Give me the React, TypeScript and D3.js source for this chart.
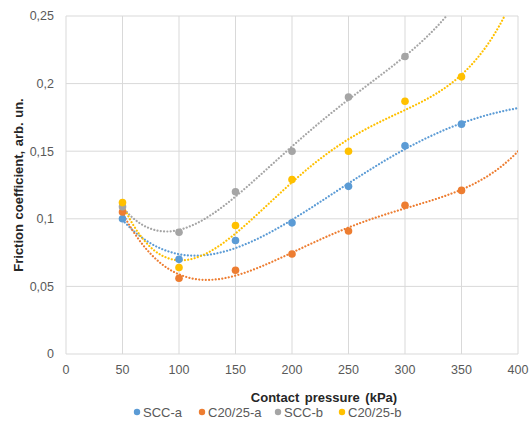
import React from "react";
import * as d3 from "d3";

const pressures = [50, 100, 150, 200, 250, 300, 350];
const sccA = [0.1, 0.07, 0.084, 0.097, 0.124, 0.154, 0.17];
const c2025A = [0.105, 0.056, 0.062, 0.074, 0.091, 0.11, 0.121];
const sccB = [0.109, 0.09, 0.12, 0.15, 0.19, 0.22];
const c2025B = [0.112, 0.064, 0.095, 0.129, 0.15, 0.187, 0.205];
const xTicks = [0, 50, 100, 150, 200, 250, 300, 350, 400];
const yTicks = [0, 0.05, 0.1, 0.15, 0.2, 0.25];

const series = [
  { name: "SCC-a", color: "#5B9BD5", values: sccA },
  { name: "C20/25-a", color: "#ED7D31", values: c2025A },
  { name: "SCC-b", color: "#A5A5A5", values: sccB },
  { name: "C20/25-b", color: "#FFC000", values: c2025B },
];

const W = 530;
const H = 432;
const margin = { left: 66, right: 12, top: 16, bottom: 78 };

// least squares polynomial, like the spreadsheet trendline
function polyfit(xs: number[], ys: number[], order: number) {
  const n = order + 1;
  const A: number[][] = [];
  for (let i = 0; i < n; i++) {
    A.push(new Array(n + 1).fill(0));
  }
  xs.forEach((x0, k) => {
    const x = x0 / 100;
    for (let i = 0; i < n; i++) {
      for (let j = 0; j < n; j++) A[i][j] += Math.pow(x, i + j);
      A[i][n] += ys[k] * Math.pow(x, i);
    }
  });
  for (let i = 0; i < n; i++) {
    let p = i;
    for (let r = i + 1; r < n; r++) if (Math.abs(A[r][i]) > Math.abs(A[p][i])) p = r;
    [A[i], A[p]] = [A[p], A[i]];
    for (let r = 0; r < n; r++) {
      if (r === i) continue;
      const f = A[r][i] / A[i][i];
      for (let c = i; c <= n; c++) A[r][c] -= f * A[i][c];
    }
  }
  const coef = A.map((row, i) => row[n] / row[i]);
  return (x0: number) => {
    const x = x0 / 100;
    return coef.reduce((s, c, i) => s + c * Math.pow(x, i), 0);
  };
}

export default function App() {
  const x = d3.scaleLinear().domain([0, 400]).range([margin.left, W - margin.right]);
  const y = d3.scaleLinear().domain([0, 0.25]).range([H - margin.bottom, margin.top]);
  const fmt = (v: number) => String(v).replace(".", ",");

  const line = d3
    .line<number[]>()
    .x((d) => x(d[0]))
    .y((d) => y(d[1]));

  const trendXs = d3.range(50, 400.5, 2);

  return (
    <svg width={W} height={H} style={{ position: "absolute", left: 0, top: 0 }}
      fontFamily="Liberation Sans, Arial, sans-serif">
      <defs>
        <clipPath id="plot">
          <rect x={x(0)} y={y(0.25)} width={x(400) - x(0)} height={y(0) - y(0.25)} />
        </clipPath>
      </defs>
      <rect width={W} height={H} fill="#fff" />
      {yTicks.map((t) => (
        <line key={"gy" + t} x1={x(0)} x2={x(400)} y1={y(t)} y2={y(t)} stroke="#d9d9d9" />
      ))}
      {xTicks.map((t) => (
        <line key={"gx" + t} x1={x(t)} x2={x(t)} y1={y(0)} y2={y(0.25)} stroke="#d9d9d9" />
      ))}
      {yTicks.map((t) => (
        <text key={"ty" + t} x={x(0) - 12} y={y(t)} dy="0.35em" textAnchor="end" fontSize={12.5} fill="#595959">
          {fmt(t)}
        </text>
      ))}
      {xTicks.map((t) => (
        <text key={"tx" + t} x={x(t)} y={y(0) + 20} textAnchor="middle" fontSize={12.5} fill="#595959">
          {t}
        </text>
      ))}
      <text x={324} y={y(0) + 48} textAnchor="middle" fontSize={13} fontWeight="bold" fill="#262626" wordSpacing={2}>
        Contact pressure (kPa)
      </text>
      <text transform={`translate(18,${(y(0) + y(0.25)) / 2}) rotate(-90)`} dy="0.35em" textAnchor="middle"
        fontSize={13} fontWeight="bold" fill="#262626" wordSpacing={1}>
        Friction coefficient, arb. un.
      </text>
      <g clipPath="url(#plot)">
        {series.map((s) => {
          const xs = pressures.slice(0, s.values.length);
          const f = polyfit(xs, s.values, 4);
          const pts = trendXs.map((v) => [v, f(v)]);
          return (
            <path key={"tr" + s.name} d={line(pts) || ""} fill="none" stroke={s.color} strokeWidth={2.2}
              strokeDasharray="0.01 3.3" strokeLinecap="round" />
          );
        })}
      </g>
      {series.map((s) =>
        s.values.map((v, i) => (
          <circle key={s.name + i} cx={x(pressures[i])} cy={y(v)} r={3.8} fill={s.color} />
        ))
      )}
      {series.map((s, i) => {
        const lx = [137, 202, 278, 342][i];
        return (
          <g key={"lg" + s.name} transform={`translate(${lx},412)`}>
            <circle cx={0} cy={0} r={3.2} fill={s.color} />
            <text x={6} y={0} dy="0.35em" fontSize={13} fill="#595959">{s.name}</text>
          </g>
        );
      })}
    </svg>
  );
}
